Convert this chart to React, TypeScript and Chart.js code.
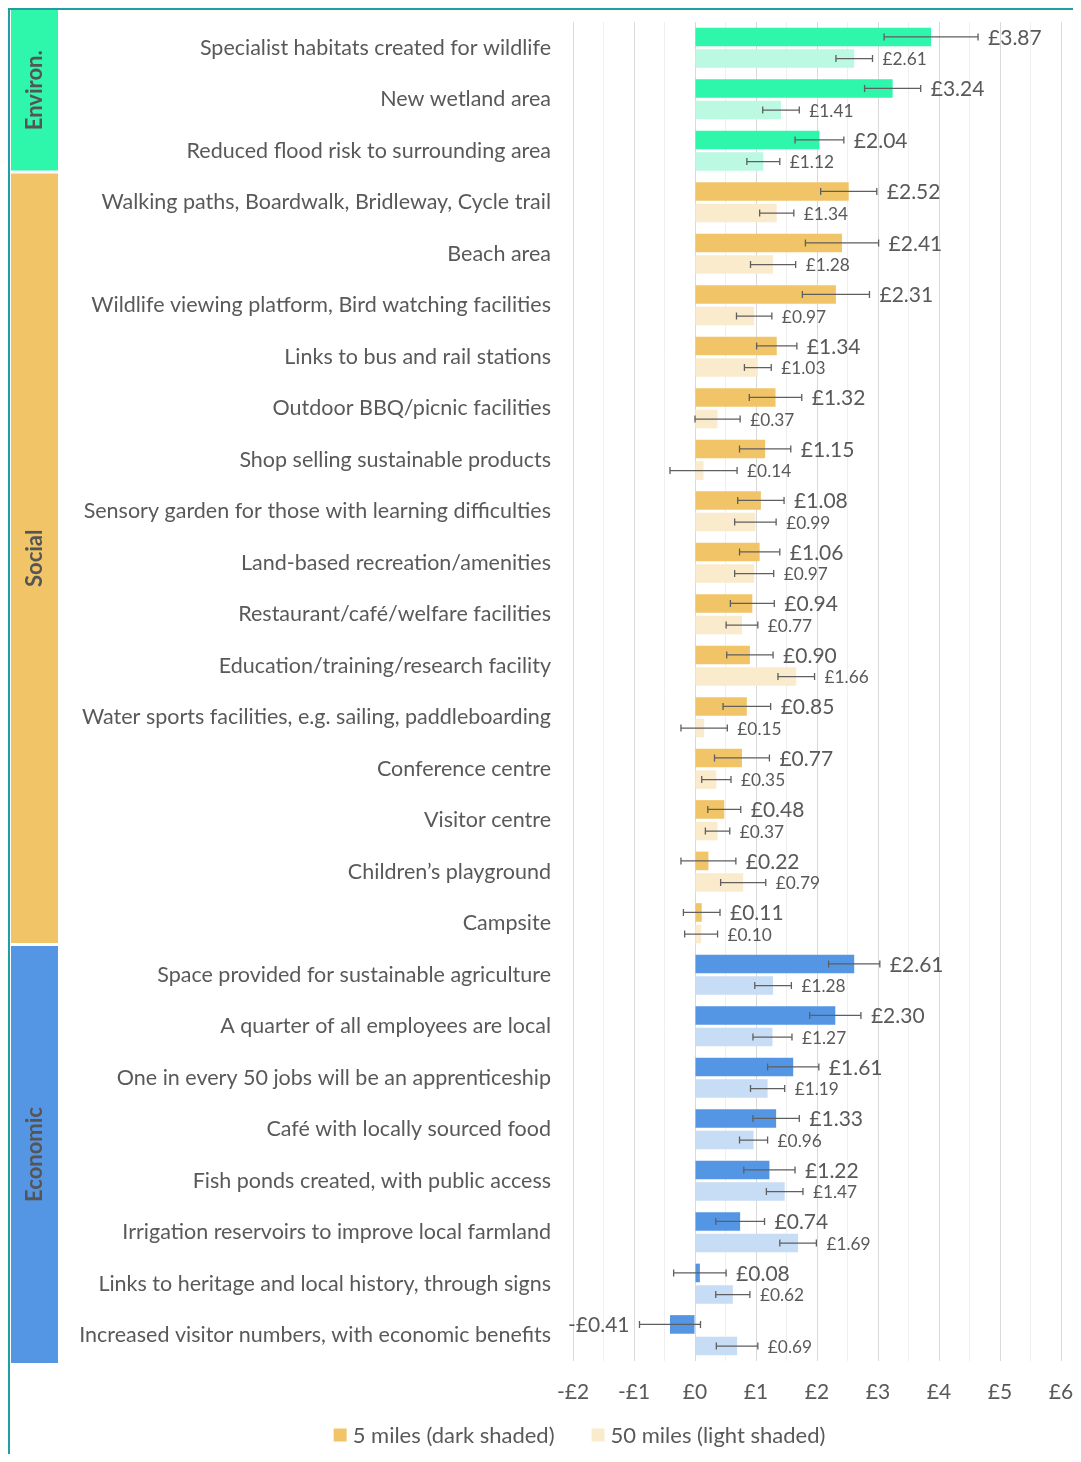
import React, { useEffect, useRef } from 'react';
import { Chart, registerables } from 'chart.js';

Chart.register(...registerables);

const FONT = 'Lato, "Open Sans", sans-serif';
const TEXT = '#595959';

const categories = [
  'Specialist habitats created for wildlife',
  'New wetland area',
  'Reduced flood risk to surrounding area',
  'Walking paths, Boardwalk, Bridleway, Cycle trail',
  'Beach area',
  'Wildlife viewing platform, Bird watching facilities',
  'Links to bus and rail stations',
  'Outdoor BBQ/picnic facilities',
  'Shop selling sustainable products',
  'Sensory garden for those with learning difficulties',
  'Land-based recreation/amenities',
  'Restaurant/café/welfare facilities',
  'Education/training/research facility',
  'Water sports facilities, e.g. sailing, paddleboarding',
  'Conference centre',
  'Visitor centre',
  'Children’s playground',
  'Campsite',
  'Space provided for sustainable agriculture',
  'A quarter of all employees are local',
  'One in every 50 jobs will be an apprenticeship',
  'Café with locally sourced food',
  'Fish ponds created, with public access',
  'Irrigation reservoirs to improve local farmland',
  'Links to heritage and local history, through signs',
  'Increased visitor numbers, with economic benefits',
];

const groupNames = ['Environ.', 'Social', 'Economic'];
const groupSizes = [3, 15, 8];

const fiveMiles = [3.87, 3.24, 2.04, 2.52, 2.41, 2.31, 1.34, 1.32, 1.15, 1.08, 1.06, 0.94, 0.9, 0.85, 0.77, 0.48, 0.22, 0.11, 2.61, 2.3, 1.61, 1.33, 1.22, 0.74, 0.08, -0.41];
const fiftyMiles = [2.61, 1.41, 1.12, 1.34, 1.28, 0.97, 1.03, 0.37, 0.14, 0.99, 0.97, 0.77, 1.66, 0.15, 0.35, 0.37, 0.79, 0.1, 1.28, 1.27, 1.19, 0.96, 1.47, 1.69, 0.62, 0.69];
const fiveErr = [0.77, 0.46, 0.4, 0.46, 0.6, 0.55, 0.33, 0.43, 0.42, 0.38, 0.33, 0.36, 0.38, 0.39, 0.45, 0.27, 0.45, 0.3, 0.42, 0.42, 0.42, 0.38, 0.42, 0.4, 0.43, 0.5];
const fiftyErr = [0.3, 0.3, 0.27, 0.28, 0.37, 0.29, 0.22, 0.37, 0.55, 0.34, 0.32, 0.26, 0.3, 0.38, 0.24, 0.2, 0.37, 0.27, 0.3, 0.32, 0.28, 0.23, 0.3, 0.3, 0.28, 0.34];

const xTicks = [-2, -1, 0, 1, 2, 3, 4, 5, 6];
const legendLabels = ['5 miles (dark shaded)', '50 miles (light shaded)'];

const groupDark = ['#2EF6AA', '#F1C468', '#5596E4'];
const groupLight = ['#BBF9E3', '#FBEBCD', '#C7DCF5'];

const groupOf: number[] = [];
groupSizes.forEach((n, g) => {
  for (let i = 0; i < n; i++) groupOf.push(g);
});

const fmt = (v: number) => (v < 0 ? '-£' + Math.abs(v).toFixed(2) : '£' + v.toFixed(2));
const fmtAxis = (v: number) => (v < 0 ? '-£' + Math.abs(v) : '£' + v);

const overlay = {
  id: 'overlay',
  beforeDraw(chart: any) {
    const { ctx, chartArea } = chart;
    const ys = chart.scales.y;
    const boundary = (k: number) => (ys.getPixelForValue(k - 1) + ys.getPixelForValue(k)) / 2;
    const edges: number[] = [chartArea.top - 12];
    let acc = 0;
    groupSizes.forEach((n, g) => {
      acc += n;
      if (g < groupSizes.length - 1) edges.push(boundary(acc) - 4.5);
    });
    edges.push(chartArea.bottom + 2);
    ctx.save();
    groupNames.forEach((name, g) => {
      const top = g === 0 ? edges[0] : edges[g] + 1.5;
      const bottom = g === groupNames.length - 1 ? edges[g + 1] : edges[g + 1] - 1.5;
      ctx.fillStyle = groupDark[g];
      ctx.fillRect(1, top, 47, bottom - top);
      ctx.save();
      ctx.translate(25, (top + bottom) / 2);
      ctx.rotate(-Math.PI / 2);
      ctx.fillStyle = '#555555';
      ctx.font = `bold 22px ${FONT}`;
      ctx.textAlign = 'center';
      ctx.textBaseline = 'middle';
      ctx.fillText(name, 0, 0);
      ctx.restore();
    });
    ctx.restore();
  },
  afterDatasetsDraw(chart: any) {
    const { ctx } = chart;
    const xs = chart.scales.x;
    const series = [
      { vals: fiveMiles, errs: fiveErr, size: 21 },
      { vals: fiftyMiles, errs: fiftyErr, size: 17.3 },
    ];
    series.forEach((s, di) => {
      const meta = chart.getDatasetMeta(di);
      meta.data.forEach((bar: any, i: number) => {
        const v = s.vals[i];
        const e = s.errs[i];
        const y = bar.y;
        const x1 = xs.getPixelForValue(v - e);
        const x2 = xs.getPixelForValue(v + e);
        ctx.save();
        ctx.strokeStyle = '#5f5f5f';
        ctx.lineWidth = 1.3;
        ctx.beginPath();
        ctx.moveTo(x1, y);
        ctx.lineTo(x2, y);
        ctx.moveTo(x1, y - 3.5);
        ctx.lineTo(x1, y + 3.5);
        ctx.moveTo(x2, y - 3.5);
        ctx.lineTo(x2, y + 3.5);
        ctx.stroke();
        ctx.font = `${s.size}px ${FONT}`;
        ctx.fillStyle = TEXT;
        ctx.textBaseline = 'middle';
        if (v >= 0) {
          ctx.textAlign = 'left';
          ctx.fillText(fmt(v), x2 + 10, y + 1);
        } else {
          ctx.textAlign = 'right';
          ctx.fillText(fmt(v), x1 - 10, y + 1);
        }
        ctx.restore();
      });
    });
  },
  afterDraw(chart: any) {
    const { ctx } = chart;
    const fontSize = 22;
    const sw = 13;
    const swGap = 6;
    const itemGap = 37;
    ctx.save();
    ctx.font = `${fontSize}px ${FONT}`;
    const widths = legendLabels.map((t) => ctx.measureText(t).width);
    const total = widths.reduce((a, w) => a + sw + swGap + w, 0) + itemGap * (legendLabels.length - 1);
    const center = (chart.width + 68) / 2;
    const cy = chart.height - 19;
    let x = center - total / 2;
    legendLabels.forEach((t, i) => {
      ctx.fillStyle = i === 0 ? groupDark[1] : groupLight[1];
      ctx.fillRect(x, cy - sw / 2, sw, sw);
      x += sw + swGap;
      ctx.fillStyle = TEXT;
      ctx.textAlign = 'left';
      ctx.textBaseline = 'middle';
      ctx.fillText(t, x, cy + 1);
      x += widths[i] + itemGap;
    });
    ctx.restore();
  },
};

export default function App() {
  const ref = useRef<HTMLCanvasElement | null>(null);

  useEffect(() => {
    document.body.style.overflow = 'hidden';
    if (!ref.current) return;
    const chart = new Chart(ref.current, {
      type: 'bar',
      data: {
        labels: categories,
        datasets: [
          {
            label: legendLabels[0],
            data: fiveMiles,
            backgroundColor: groupOf.map((g) => groupDark[g]),
            categoryPercentage: 0.84,
            barPercentage: 0.86,
          },
          {
            label: legendLabels[1],
            data: fiftyMiles,
            backgroundColor: groupOf.map((g) => groupLight[g]),
            categoryPercentage: 0.84,
            barPercentage: 0.86,
          },
        ],
      },
      options: {
        indexAxis: 'y',
        responsive: false,
        maintainAspectRatio: false,
        animation: false,
        layout: { padding: { left: 0, right: 20, top: 12, bottom: 46 } },
        scales: {
          x: {
            min: -2,
            max: 6,
            border: { display: false },
            grid: {
              drawTicks: false,
              lineWidth: 1,
              color: (c: any) => (Number.isInteger(c.tick?.value) ? '#d9d9d9' : '#efefef'),
            },
            ticks: {
              stepSize: 0.5,
              autoSkip: false,
              maxRotation: 0,
              padding: 19,
              color: TEXT,
              font: { size: 21, family: FONT },
              callback: (v: any) => (xTicks.includes(Number(v)) ? fmtAxis(Number(v)) : ''),
            },
            afterFit: (s: any) => {
              s.height = 47;
              s.paddingLeft = 0;
              s.paddingRight = 0;
            },
          },
          y: {
            border: { display: false },
            grid: { display: false, drawTicks: false },
            ticks: {
              autoSkip: false,
              padding: 22,
              color: TEXT,
              font: { size: 21.5, family: FONT },
            },
            afterFit: (s: any) => {
              s.width = 563;
              s.paddingTop = 0;
              s.paddingBottom = 0;
            },
          },
        },
        plugins: {
          tooltip: { enabled: false },
          legend: { display: false },
        },
      },
      plugins: [overlay],
    } as any);
    return () => chart.destroy();
  }, []);

  return (
    <div
      style={{
        width: 1071,
        height: 1444,
        borderTop: '2px solid #1f9f9f',
        borderLeft: '2px solid #1f9f9f',
        background: '#fff',
      }}
    >
      <canvas ref={ref} width={1071} height={1444} style={{ display: 'block' }} />
    </div>
  );
}
